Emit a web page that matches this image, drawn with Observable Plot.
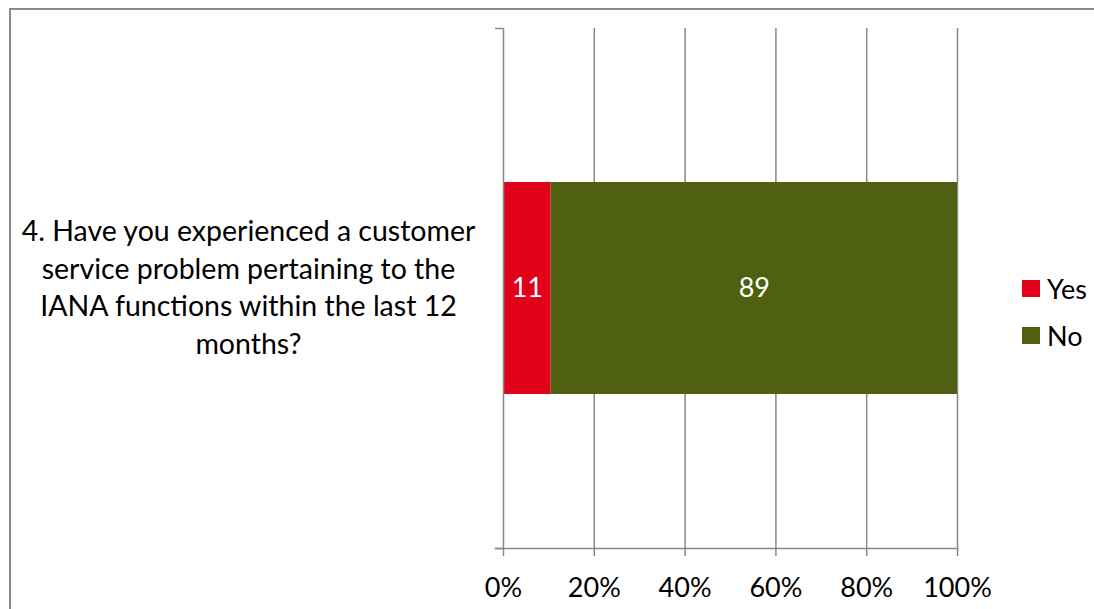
<!DOCTYPE html>
<html>
<head>
<meta charset="utf-8">
<script src="https://cdn.jsdelivr.net/npm/d3@7"></script>
<script src="https://cdn.jsdelivr.net/npm/@observablehq/plot@0.6"></script>
<style>
  html, body { margin: 0; padding: 0; background: #fff; overflow: hidden; }
  #wrap { position: relative; width: 1094px; height: 609px; overflow: hidden; font-family: Lato, sans-serif; background: #fff; }
  #border { position: absolute; left: 9px; top: 8px; width: 1200px; height: 800px; border-left: 2px solid #8a8a8a; border-top: 2px solid #8a8a8a; box-sizing: border-box; }
  #chart { position: absolute; left: 0; top: 0; }
  #legend { position: absolute; left: 1022px; top: 265px; font-family: Lato, sans-serif; font-size: 27px; color: #000; }
  .item { display: flex; align-items: center; height: 47px; }
  .sw { width: 18px; height: 17px; margin-right: 7px; }
</style>
</head>
<body>
<div id="wrap">
  <div id="border"></div>
  <div id="chart"></div>
  <div id="legend"></div>
</div>
<script>
// Data
const questionLines = [
  "4. Have you experienced a customer",
  "service problem pertaining to the",
  "IANA functions within the last 12",
  "months?"
];
const question = questionLines.join(" ");
const answers = ["Yes", "No"];
const values = [10.5, 89.5];
const valueLabels = ["11", "89"];
const colors = ["#e2001a", "#4f6010"];
const xTicks = [0, 20, 40, 60, 80, 100];
const xTickLabels = ["0%", "20%", "40%", "60%", "80%", "100%"];

const data = answers.map((a, i) => ({question, answer: a, value: values[i], label: valueLabels[i]}));
const gray = "#888888";

const boundaryTicks = (index, scales, vals, dims) => {
  const g = d3.create("svg:g");
  const x0 = scales.x(0);
  [dims.marginTop, dims.height - dims.marginBottom].forEach(y => {
    g.append("line")
      .attr("x1", x0 - 8).attr("x2", x0)
      .attr("y1", y + 0.5).attr("y2", y + 0.5)
      .attr("stroke", gray).attr("stroke-width", 1.5);
  });
  return g.node();
};

const chart = Plot.plot({
  width: 1094,
  height: 609,
  marginTop: 28,
  marginBottom: 61,
  marginLeft: 503,
  marginRight: 137,
  style: {fontFamily: "Lato, sans-serif", fontSize: "27px", color: "#000", background: "transparent"},
  x: {domain: [0, 100]},
  y: {domain: [question], padding: 0.42},
  color: {domain: answers, range: colors},
  marks: [
    Plot.gridX(xTicks.slice(1), {stroke: gray, strokeOpacity: 1, strokeWidth: 1.5}),
    Plot.barX(data, {x: "value", y: "question", fill: "answer", order: answers}),
    Plot.text(data, Plot.stackX({x: "value", y: "question", z: "answer", text: "label", fill: "white", fontSize: 27, order: answers})),
    Plot.ruleX([0], {stroke: gray, strokeWidth: 1.5}),
    Plot.frame({anchor: "bottom", insetLeft: -8, stroke: gray, strokeWidth: 1.5}),
    boundaryTicks,
    Plot.axisX({
      ticks: xTicks,
      tickFormat: (d) => xTickLabels[xTicks.indexOf(d)],
      tickSize: 8,
      tickPadding: 21,
      stroke: gray,
      strokeWidth: 1.5,
      fontSize: 27,
      fill: "#000",
      label: null
    }),
    Plot.axisY({
      tickSize: 0,
      tickPadding: 255,
      textAnchor: "middle",
      lineHeight: 1.32,
      fontSize: 28.5,
      dy: -3,
      fill: "#000",
      tickFormat: () => questionLines.join("\n"),
      label: null
    })
  ]
});
document.getElementById("chart").appendChild(chart);

const legend = document.getElementById("legend");
answers.forEach((a, i) => {
  const row = document.createElement("div");
  row.className = "item";
  const sw = document.createElement("div");
  sw.className = "sw";
  sw.style.background = colors[i];
  const t = document.createElement("span");
  t.textContent = a;
  row.appendChild(sw);
  row.appendChild(t);
  legend.appendChild(row);
});
</script>
</body>
</html>
